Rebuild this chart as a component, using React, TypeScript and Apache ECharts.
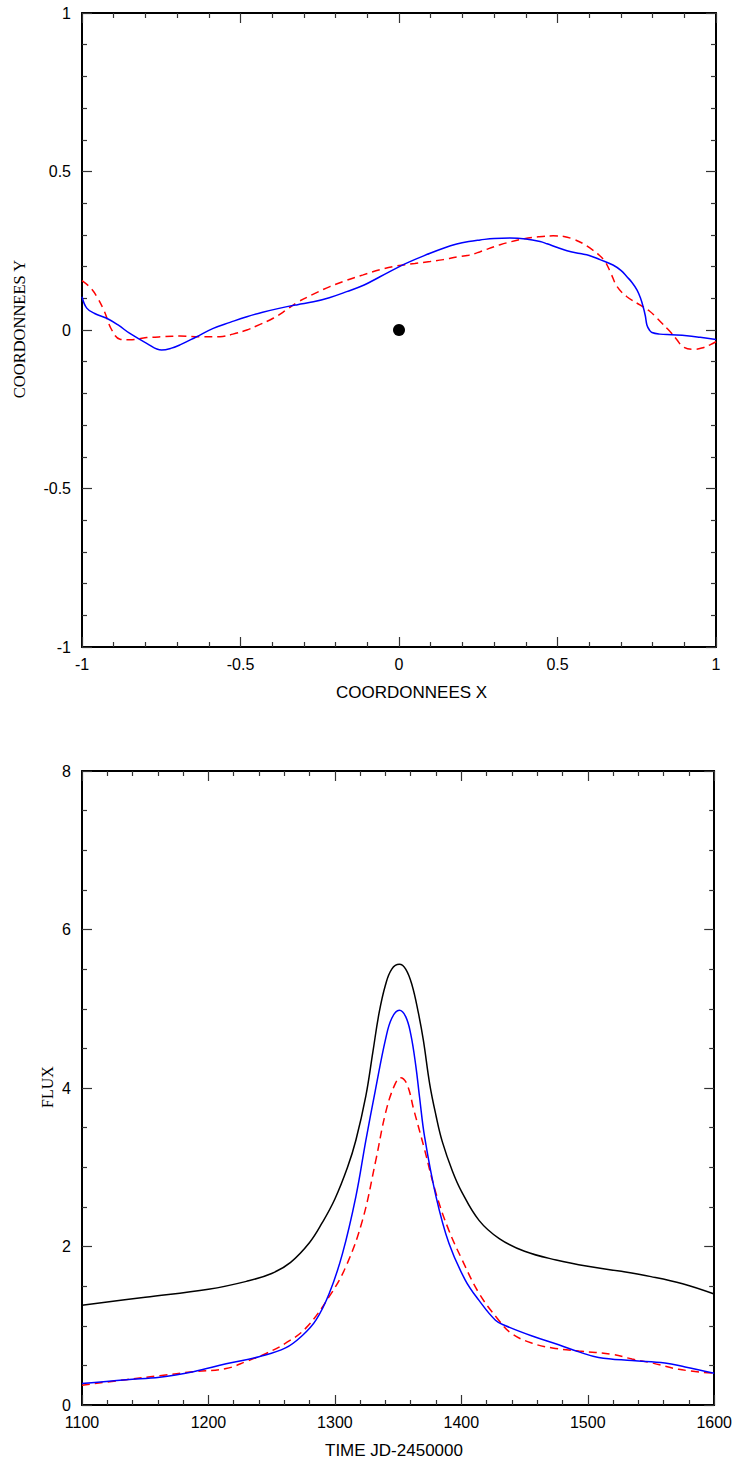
import React, { useEffect, useRef } from "react";
import * as echarts from "echarts";

// ---- Top panel: trajectory (COORDONNEES X / Y) ----
const blueX = [-1, -0.985, -0.96, -0.922, -0.885, -0.849, -0.796, -0.749, -0.72, -0.691, -0.64, -0.586, -0.533, -0.48, -0.43, -0.375, -0.32, -0.27, -0.22, -0.165, -0.11, -0.06, 0.024, 0.098, 0.14, 0.182, 0.22, 0.256, 0.3, 0.35, 0.4, 0.445, 0.467, 0.5, 0.53, 0.571, 0.6, 0.634, 0.675, 0.7, 0.719, 0.735, 0.751, 0.762, 0.77, 0.777, 0.782, 0.79, 0.798, 0.823, 0.86, 0.908, 0.95, 1];
const blueY = [0.105, 0.069, 0.052, 0.037, 0.015, -0.011, -0.042, -0.063, -0.058, -0.047, -0.022, 0.005, 0.024, 0.042, 0.056, 0.069, 0.08, 0.089, 0.102, 0.121, 0.142, 0.168, 0.211, 0.242, 0.258, 0.271, 0.279, 0.284, 0.289, 0.29, 0.287, 0.279, 0.272, 0.26, 0.25, 0.241, 0.235, 0.222, 0.205, 0.188, 0.168, 0.15, 0.126, 0.1, 0.074, 0.045, 0.016, 0.0, -0.008, -0.013, -0.015, -0.018, -0.023, -0.03];

const redX = [-1, -0.975, -0.953, -0.93, -0.906, -0.88, -0.85, -0.796, -0.74, -0.691, -0.628, -0.565, -0.524, -0.48, -0.44, -0.397, -0.36, -0.323, -0.27, -0.218, -0.165, -0.113, -0.06, -0.007, 0.05, 0.098, 0.14, 0.182, 0.22, 0.256, 0.319, 0.391, 0.44, 0.486, 0.52, 0.549, 0.58, 0.603, 0.627, 0.65, 0.668, 0.688, 0.719, 0.76, 0.79, 0.814, 0.855, 0.876, 0.896, 0.927, 0.955, 0.981, 1];
const redY = [0.156, 0.135, 0.105, 0.06, 0.0, -0.029, -0.031, -0.024, -0.021, -0.019, -0.021, -0.021, -0.013, 0.0, 0.017, 0.037, 0.06, 0.086, 0.113, 0.137, 0.157, 0.174, 0.19, 0.202, 0.21, 0.216, 0.222, 0.23, 0.236, 0.247, 0.269, 0.287, 0.294, 0.297, 0.295, 0.287, 0.273, 0.258, 0.24, 0.216, 0.18, 0.137, 0.105, 0.079, 0.06, 0.037, -0.005, -0.03, -0.053, -0.061, -0.057, -0.047, -0.037];

const lensX = [0];
const lensY = [0];

// ---- Bottom panel: light curve (TIME / FLUX) ----
const timeBlack = [1100, 1150, 1200, 1230, 1250, 1265, 1280, 1290, 1300, 1310, 1316.6, 1324.5, 1330, 1335, 1340, 1345, 1351, 1356, 1361, 1366, 1370, 1375, 1380, 1385, 1393, 1400, 1414, 1430, 1450, 1475, 1500, 1525, 1550, 1575, 1600];
const fluxBlack = [1.26, 1.36, 1.46, 1.56, 1.66, 1.8, 2.05, 2.3, 2.6, 3.0, 3.34, 3.9, 4.45, 4.95, 5.3, 5.5, 5.56, 5.5, 5.3, 4.95, 4.6, 4.05, 3.65, 3.32, 2.95, 2.7, 2.33, 2.1, 1.94, 1.83, 1.75, 1.69, 1.62, 1.53, 1.4];

const timeBlue = [1100, 1135, 1161.5, 1188, 1214, 1240, 1261, 1274.5, 1285, 1295.6, 1306, 1316.6, 1324.5, 1332, 1340, 1345, 1351, 1356, 1360, 1364, 1367, 1371, 1380, 1390.2, 1403, 1414, 1427, 1435, 1456, 1477, 1493, 1508.5, 1535, 1561, 1577, 1600];
const fluxBlue = [0.27, 0.32, 0.35, 0.42, 0.52, 0.61, 0.72, 0.88, 1.07, 1.41, 1.91, 2.63, 3.34, 3.97, 4.61, 4.88, 4.98, 4.9, 4.68, 4.28, 3.88, 3.38, 2.63, 2.04, 1.58, 1.32, 1.07, 1.0, 0.87, 0.76, 0.67, 0.6, 0.56, 0.53, 0.48, 0.4];

const timeRed = [1100, 1135, 1161.5, 1188, 1214, 1230, 1245.6, 1261, 1277, 1295.6, 1308.8, 1321.8, 1332.4, 1340, 1346.8, 1352, 1357, 1362.5, 1370.5, 1380, 1390, 1400.7, 1414, 1429.6, 1440, 1456, 1472, 1493, 1519, 1535, 1551, 1572, 1600];
const fluxRed = [0.25, 0.32, 0.37, 0.42, 0.46, 0.55, 0.65, 0.78, 0.97, 1.37, 1.75, 2.33, 3.09, 3.68, 4.02, 4.13, 4.05, 3.72, 3.25, 2.67, 2.21, 1.83, 1.41, 1.07, 0.9, 0.78, 0.72, 0.68, 0.64, 0.58, 0.53, 0.45, 0.4];

const topXTicks = { min: -1, max: 1, interval: 0.5, minor: 5 };
const topYTicks = { min: -1, max: 1, interval: 0.5, minor: 5 };
const botXTicks = { min: 1100, max: 1600, interval: 100, minor: 5 };
const botYTicks = { min: 0, max: 8, interval: 2, minor: 4 };

const zip = (a: number[], b: number[]) => a.map((v, i) => [v, b[i]]);

const LABEL_FONT = "'Liberation Sans', Arial, sans-serif";
const SERIF_FONT = "'Liberation Serif', 'Times New Roman', serif";

function mkAxis(
  kind: "x" | "y",
  grid: number,
  t: { min: number; max: number; interval: number; minor: number },
  position: string,
  showLabel: boolean
) {
  return {
    type: "value",
    gridIndex: grid,
    position,
    min: t.min,
    max: t.max,
    interval: t.interval,
    axisLine: { show: true, onZero: false, lineStyle: { color: "#000", width: 2 } },
    axisTick: { show: true, inside: true, length: 10, lineStyle: { color: "#333", width: 1.2 } },
    minorTick: { show: true, splitNumber: t.minor, length: 5, lineStyle: { color: "#333", width: 1.2 } },
    splitLine: { show: false },
    minorSplitLine: { show: false },
    axisLabel: {
      show: showLabel,
      color: "#000",
      fontSize: 16,
      fontFamily: LABEL_FONT,
      margin: kind === "x" ? 9 : 11,
      formatter: (v: number) => String(v),
    },
  };
}

export default function App() {
  const ref = useRef<HTMLDivElement>(null);
  useEffect(() => {
    const chart = echarts.init(ref.current!, null, { renderer: "svg" });
    const option: any = {
      animation: false,
      backgroundColor: "#fff",
      grid: [
        { left: 82, top: 13, width: 634, height: 634 },
        { left: 82, top: 771, width: 634, height: 634 },
      ],
      xAxis: [
        mkAxis("x", 0, topXTicks, "bottom", true),
        mkAxis("x", 0, topXTicks, "top", false),
        mkAxis("x", 1, botXTicks, "bottom", true),
        mkAxis("x", 1, botXTicks, "top", false),
      ],
      yAxis: [
        mkAxis("y", 0, topYTicks, "left", true),
        mkAxis("y", 0, topYTicks, "right", false),
        mkAxis("y", 1, botYTicks, "left", true),
        mkAxis("y", 1, botYTicks, "right", false),
      ],
      series: [
        {
          type: "line",
          xAxisIndex: 0,
          yAxisIndex: 0,
          data: zip(redX, redY),
          showSymbol: false,
          smooth: 0.4,
          lineStyle: { color: "#ff0000", width: 1.5, type: [8, 5] },
        },
        {
          type: "line",
          xAxisIndex: 0,
          yAxisIndex: 0,
          data: zip(blueX, blueY),
          showSymbol: false,
          smooth: 0.4,
          lineStyle: { color: "#0000ff", width: 1.5 },
        },
        {
          type: "scatter",
          xAxisIndex: 0,
          yAxisIndex: 0,
          data: zip(lensX, lensY),
          symbolSize: 12,
          itemStyle: { color: "#000", opacity: 1 },
        },
        {
          type: "line",
          xAxisIndex: 2,
          yAxisIndex: 2,
          data: zip(timeBlack, fluxBlack),
          showSymbol: false,
          smooth: 0.4,
          lineStyle: { color: "#000", width: 1.5 },
        },
        {
          type: "line",
          xAxisIndex: 2,
          yAxisIndex: 2,
          data: zip(timeRed, fluxRed),
          showSymbol: false,
          smooth: 0.4,
          lineStyle: { color: "#ff0000", width: 1.5, type: [8, 5] },
        },
        {
          type: "line",
          xAxisIndex: 2,
          yAxisIndex: 2,
          data: zip(timeBlue, fluxBlue),
          showSymbol: false,
          smooth: 0.4,
          lineStyle: { color: "#0000ff", width: 1.5 },
        },
      ],
      graphic: [
        {
          type: "text",
          x: 19,
          y: 329,
          rotation: Math.PI / 2,
          style: { text: "COORDONNEES Y", font: `16.5px ${SERIF_FONT}`, fill: "#000", align: "center", verticalAlign: "middle" },
        },
        {
          type: "text",
          x: 336,
          y: 692,
          style: { text: "COORDONNEES X", font: `17px ${LABEL_FONT}`, fill: "#000", align: "left", verticalAlign: "middle" },
        },
        {
          type: "text",
          x: 47,
          y: 1087,
          rotation: Math.PI / 2,
          style: { text: "FLUX", font: `16px ${SERIF_FONT}`, fill: "#000", align: "center", verticalAlign: "middle" },
        },
        {
          type: "text",
          x: 325,
          y: 1450,
          style: { text: "TIME JD-2450000", font: `17px ${LABEL_FONT}`, fill: "#000", align: "left", verticalAlign: "middle" },
        },
      ],
    };
    chart.setOption(option);
    return () => chart.dispose();
  }, []);
  return (
    <div
      ref={ref}
      style={{ position: "absolute", left: 0, top: 0, width: 735, height: 1462, background: "#fff" }}
    />
  );
}
